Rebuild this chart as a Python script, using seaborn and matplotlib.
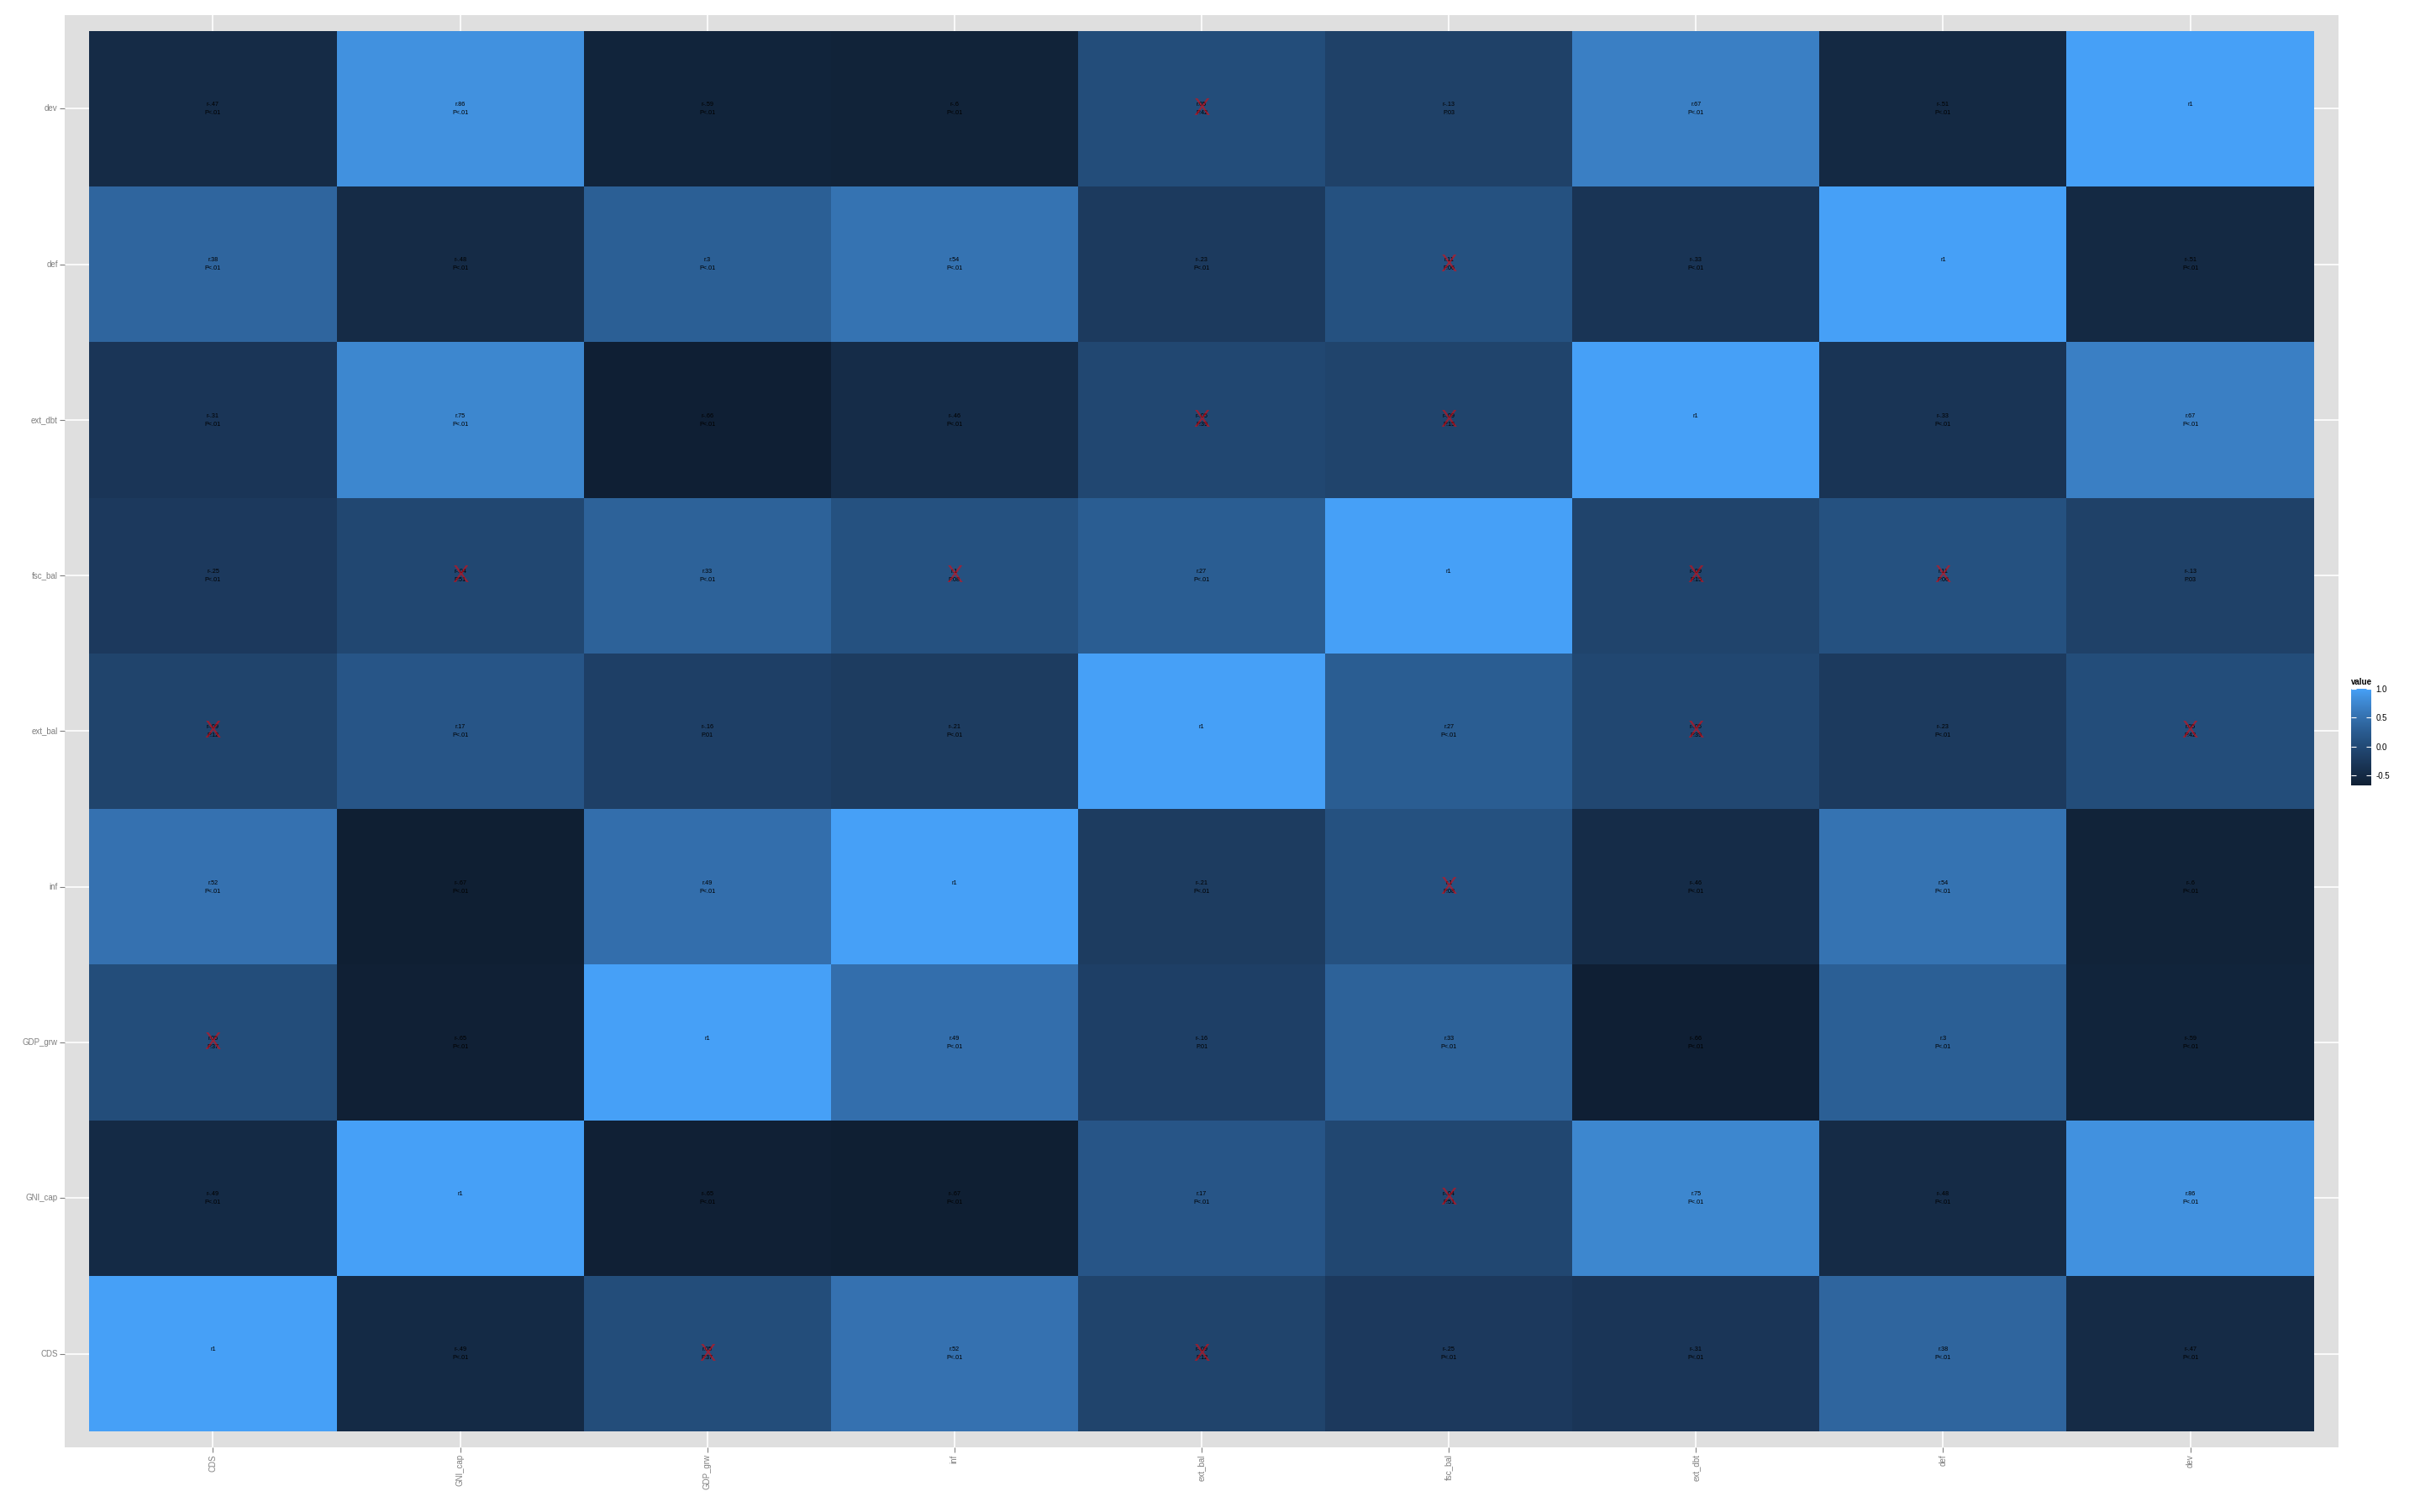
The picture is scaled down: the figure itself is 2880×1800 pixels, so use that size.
# Корреляционная матрица (тепловая карта) в стиле ggplot
import numpy as np
import pandas as pd
import matplotlib
matplotlib.use("Agg")
from matplotlib import pyplot as plt
from matplotlib.colors import LinearSegmentedColormap
import seaborn as sns

# Переменные (порядок по оси X слева направо, по оси Y снизу вверх)
variables = ["CDS", "GNI_cap", "GDP_grw", "inf", "ext_bal", "fsc_bal", "ext_dbt", "def", "dev"]

# Коэффициенты корреляции (строки и столбцы в порядке variables)
r_values = [
    [1, -.49, .05, .52, -.09, -.25, -.31, .38, -.47],
    [-.49, 1, -.65, -.67, .17, -.04, .75, -.48, .86],
    [.05, -.65, 1, .49, -.16, .33, -.66, .3, -.59],
    [.52, -.67, .49, 1, -.21, .1, -.46, .54, -.6],
    [-.09, .17, -.16, -.21, 1, .27, -.05, -.23, .05],
    [-.25, -.04, .33, .1, .27, 1, -.09, .11, -.13],
    [-.31, .75, -.66, -.46, -.05, -.09, 1, -.33, .67],
    [.38, -.48, .3, .54, -.23, .11, -.33, 1, -.51],
    [-.47, .86, -.59, -.6, .05, -.13, .67, -.51, 1],
]

# Подписи P-значений ("" на диагонали)
p_labels = [
    ["", "<.01", ".37", "<.01", ".12", "<.01", "<.01", "<.01", "<.01"],
    ["<.01", "", "<.01", "<.01", "<.01", ".51", "<.01", "<.01", "<.01"],
    [".37", "<.01", "", "<.01", ".01", "<.01", "<.01", "<.01", "<.01"],
    ["<.01", "<.01", "<.01", "", "<.01", ".08", "<.01", "<.01", "<.01"],
    [".12", "<.01", ".01", "<.01", "", "<.01", ".39", "<.01", ".42"],
    ["<.01", ".51", "<.01", ".08", "<.01", "", ".15", ".06", ".03"],
    ["<.01", "<.01", "<.01", "<.01", ".39", ".15", "", "<.01", "<.01"],
    ["<.01", "<.01", "<.01", "<.01", "<.01", ".06", "<.01", "", "<.01"],
    ["<.01", "<.01", "<.01", "<.01", ".42", ".03", "<.01", "<.01", ""],
]

legend_ticks = [-0.5, 0.0, 0.5, 1.0]


def fmt_r(v):
    # 0.47 -> ".47", -0.6 -> "-.6", 1 -> "1"
    s = f"{v:.2f}".rstrip("0").rstrip(".")
    return s.replace("0.", ".")


def not_significant(p):
    return p != "" and not p.startswith("<") and float(p) > 0.05


plt.rcParams["font.family"] = ["Liberation Sans", "DejaVu Sans"]

# Таблица для heatmap: строки сверху вниз в обратном порядке
rows = variables[::-1]
r_df = pd.DataFrame(r_values, index=variables, columns=variables).loc[rows, variables]
p_df = pd.DataFrame(p_labels, index=variables, columns=variables).loc[rows, variables]

# Градиент в духе ggplot (тёмно-синий -> голубой)
cmap = LinearSegmentedColormap.from_list(
    "gg_blue",
    [(0.0, "#0F1F33"), (0.26, "#1C3A5E"), (0.43, "#234D7A"), (0.56, "#2A5C91"),
     (0.72, "#3572B1"), (0.91, "#4190DD"), (1.0, "#46A0F7")],
)

fig = plt.figure(figsize=(28.8, 18), dpi=100)
ax = fig.add_axes([77 / 2880, 1 - 1723 / 1800, (2783 - 77) / 2880, (1723 - 18) / 1800])
cax = fig.add_axes([2798 / 2880, 1 - 935 / 1800, 24 / 2880, 115 / 1800])

vmin = float(np.min(r_values))
sns.heatmap(r_df, ax=ax, cmap=cmap, vmin=vmin, vmax=1.0, cbar=True, cbar_ax=cax,
            linewidths=0)

# Фон панели и сетка как в ggplot
ax.set_facecolor("#DFDFDF")
ax.set_axisbelow(True)
ax.grid(True, color="white", linewidth=1.2)
ax.set_xlim(-0.1, len(variables) + 0.1)
ax.set_ylim(len(variables) + 0.1, -0.1)
for s in ax.spines.values():
    s.set_visible(False)

ax.set_xticks(np.arange(len(variables)) + 0.5)
ax.set_xticklabels(variables, rotation=90, ha="center", va="top")
ax.set_yticks(np.arange(len(rows)) + 0.5)
ax.set_yticklabels(rows, rotation=0, ha="right", va="center")
ax.tick_params(axis="both", length=4, width=0.8, color="#7F7F7F", labelcolor="#7F7F7F",
               labelsize=7, pad=2)
ax.set_xlabel("")
ax.set_ylabel("")

# Подписи в ячейках: r и P, перечёркнутые если P > .05
for i, row in enumerate(rows):
    for j, col in enumerate(variables):
        r = r_df.loc[row, col]
        p = p_df.loc[row, col]
        ax.text(j + 0.5, i + 0.5 - 0.026, "r" + fmt_r(r), ha="center", va="center",
                fontsize=5.2, color="black")
        if p:
            ax.text(j + 0.5, i + 0.5 + 0.028, "P" + p, ha="center", va="center",
                    fontsize=5.2, color="black")
        if not_significant(p):
            ax.text(j + 0.5, i + 0.5, "X", ha="center", va="center",
                    fontsize=21, color="red", alpha=0.5)

# Легенда
cbar = ax.collections[0].colorbar
cbar.outline.set_visible(False)
cbar.set_ticks(legend_ticks)
cbar.set_ticklabels([f"{t:.1f}" for t in legend_ticks])
cax.tick_params(axis="y", which="both", left=True, right=True, direction="in",
                length=4, width=0.8, color="white", labelcolor="black",
                labelsize=7, pad=4)
fig.text(2798 / 2880, 1 - 812 / 1800, "value", fontsize=7, fontweight="bold",
         ha="left", va="center")

fig.savefig("out.png", dpi=100, facecolor="white")
